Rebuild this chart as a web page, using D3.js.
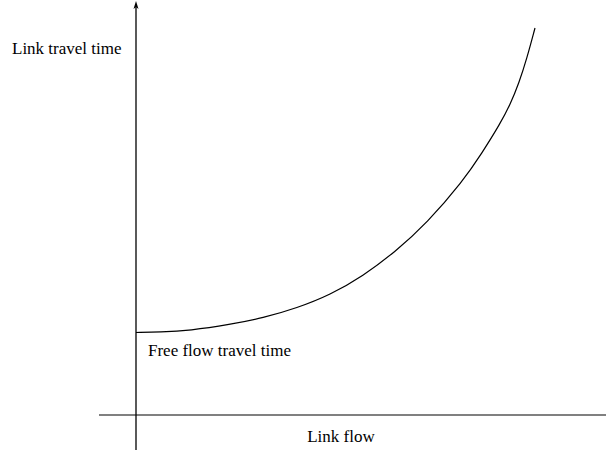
<!DOCTYPE html>
<html>
<head>
<meta charset="utf-8">
<script src="https://cdn.jsdelivr.net/npm/d3@7"></script>
<style>
  body { margin: 0; background: #fff; }
  svg { display: block; }
  text { font-family: "Liberation Serif", "Times New Roman", serif; font-size: 17px; fill: #000; }
</style>
</head>
<body>
<div id="chart"></div>
<script>
// Link performance curve (arbitrary units)
const flow = [0, 6, 13.5, 23.5, 31.75, 40.25, 48.5, 56.75, 64.75, 72.75, 81.75, 86.5, 91, 93.5, 95.75, 97.75, 99.75];
const travelTime = [20.625, 20.7, 21.125, 22.625, 24.25, 26.75, 30, 34.75, 40.75, 48, 58.5, 65.5, 72.75, 77.5, 83, 89.25, 96.75];

const xLabel = 'Link flow';
const yLabel = 'Link travel time';
const freeFlowLabel = 'Free flow travel time';

const width = 606;
const height = 453;

const svg = d3.select('#chart')
    .append('svg')
    .attr('width', width)
    .attr('height', height);

const xScale = d3.scaleLinear()
    .domain([0, 100])
    .range([136, 536]);

const yScale = d3.scaleLinear()
    .domain([0, 100])
    .range([415, 15]);

// x axis (gray, extends a bit left of the origin)
svg.append('line')
    .attr('x1', xScale(-9.25))
    .attr('x2', width)
    .attr('y1', yScale(0))
    .attr('y2', yScale(0))
    .attr('stroke', '#808080')
    .attr('stroke-width', 2);

// y axis with arrow head
const ax = xScale(0);
svg.append('line')
    .attr('x1', ax)
    .attr('x2', ax)
    .attr('y1', yScale(102))
    .attr('y2', yScale(-8.75))
    .attr('stroke', '#000')
    .attr('stroke-width', 1.3);

const tip = yScale(103.5);
svg.append('path')
    .attr('d', `M${ax},${tip} L${ax - 2.5},${tip + 8} L${ax},${tip + 6} L${ax + 2.5},${tip + 8} Z`)
    .attr('fill', '#000');

// curve
const points = flow.map((f, i) => ({ f, t: travelTime[i] }));
const line = d3.line()
    .x(d => xScale(d.f))
    .y(d => yScale(d.t))
    .curve(d3.curveBasis);

svg.append('path')
    .datum(points)
    .attr('fill', 'none')
    .attr('stroke', '#000')
    .attr('stroke-width', 1.2)
    .attr('d', line);

// labels
svg.append('text')
    .attr('x', 12)
    .attr('y', 54)
    .text(yLabel);

svg.append('text')
    .attr('x', 148)
    .attr('y', 356)
    .text(freeFlowLabel);

svg.append('text')
    .attr('x', 341)
    .attr('y', 442)
    .attr('text-anchor', 'middle')
    .text(xLabel);
</script>
</body>
</html>
